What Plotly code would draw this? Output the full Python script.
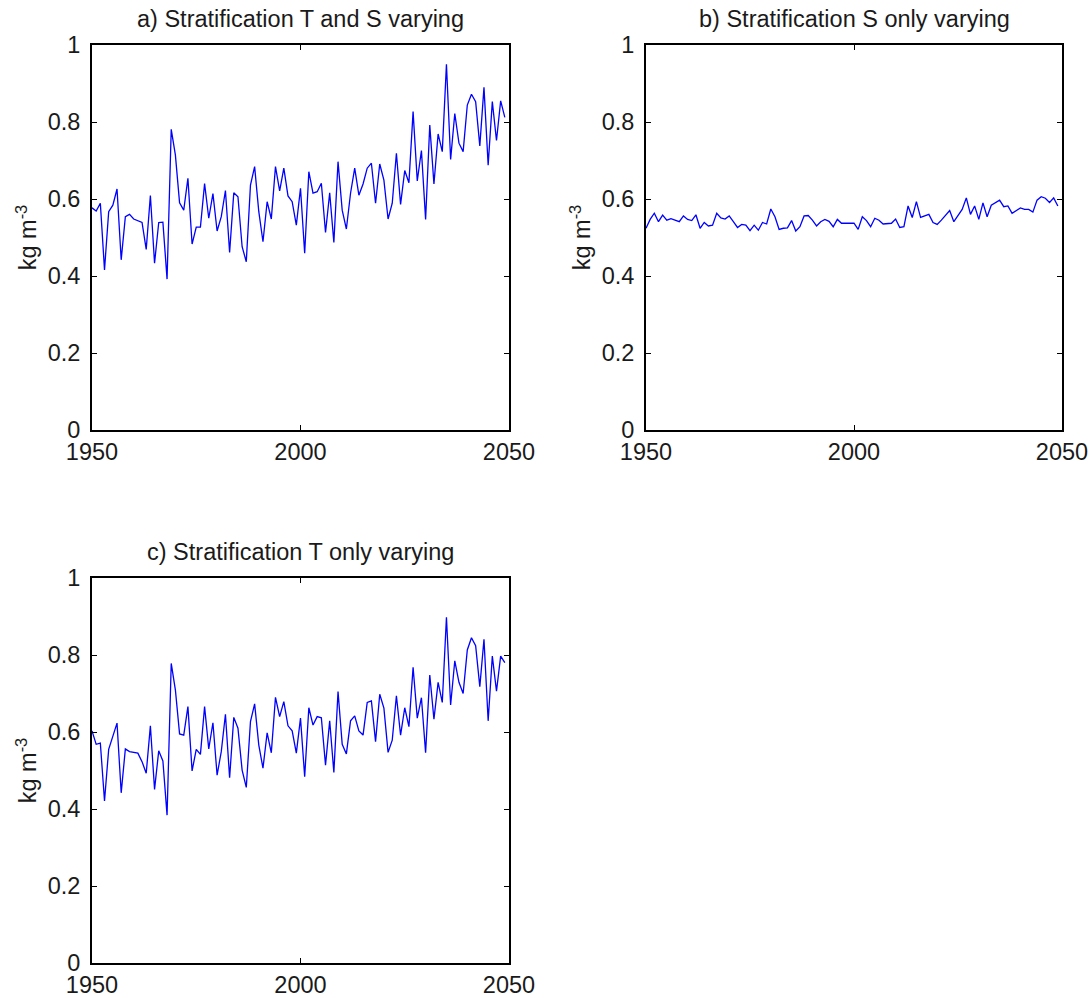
import plotly.graph_objects as go

years = list(range(1950, 2050))

# a) T and S varying
strat_ts = [
    0.577, 0.569, 0.589, 0.416, 0.567, 0.584, 0.626, 0.442, 0.554, 0.560,
    0.548, 0.543, 0.539, 0.469, 0.609, 0.433, 0.539, 0.540, 0.392, 0.781,
    0.714, 0.590, 0.571, 0.654, 0.483, 0.527, 0.527, 0.640, 0.550, 0.614,
    0.517, 0.554, 0.622, 0.461, 0.616, 0.606, 0.476, 0.437, 0.636, 0.684,
    0.567, 0.489, 0.593, 0.548, 0.684, 0.621, 0.680, 0.608, 0.593, 0.532,
    0.628, 0.459, 0.671, 0.615, 0.619, 0.641, 0.513, 0.616, 0.487, 0.697,
    0.571, 0.522, 0.615, 0.680, 0.610, 0.639, 0.680, 0.693, 0.589, 0.691,
    0.649, 0.548, 0.589, 0.719, 0.586, 0.674, 0.642, 0.827, 0.647, 0.726,
    0.547, 0.792, 0.639, 0.769, 0.723, 0.950, 0.703, 0.822, 0.745, 0.723,
    0.844, 0.872, 0.853, 0.738, 0.890, 0.688, 0.853, 0.752, 0.855, 0.812,
]

# b) S only varying
strat_s = [
    0.524, 0.547, 0.563, 0.541, 0.558, 0.545, 0.549, 0.545, 0.541, 0.556,
    0.547, 0.544, 0.559, 0.524, 0.539, 0.530, 0.532, 0.563, 0.551, 0.548,
    0.556, 0.541, 0.526, 0.534, 0.532, 0.518, 0.532, 0.519, 0.539, 0.535,
    0.574, 0.554, 0.521, 0.524, 0.525, 0.544, 0.517, 0.528, 0.556, 0.557,
    0.545, 0.530, 0.541, 0.547, 0.542, 0.528, 0.547, 0.537, 0.537, 0.537,
    0.537, 0.521, 0.554, 0.544, 0.528, 0.550, 0.545, 0.535, 0.537, 0.537,
    0.548, 0.526, 0.528, 0.582, 0.552, 0.593, 0.552, 0.557, 0.560, 0.539,
    0.534, 0.545, 0.557, 0.570, 0.541, 0.556, 0.573, 0.603, 0.560, 0.582,
    0.547, 0.590, 0.554, 0.584, 0.590, 0.597, 0.580, 0.582, 0.563, 0.569,
    0.577, 0.573, 0.573, 0.566, 0.597, 0.606, 0.602, 0.591, 0.603, 0.582,
]

# c) T only varying
strat_t = [
    0.603, 0.568, 0.571, 0.421, 0.555, 0.588, 0.623, 0.442, 0.556, 0.549,
    0.546, 0.545, 0.523, 0.493, 0.616, 0.451, 0.551, 0.525, 0.384, 0.778,
    0.709, 0.595, 0.592, 0.666, 0.499, 0.555, 0.542, 0.666, 0.556, 0.624,
    0.488, 0.549, 0.646, 0.481, 0.638, 0.610, 0.501, 0.456, 0.627, 0.673,
    0.566, 0.506, 0.598, 0.546, 0.690, 0.640, 0.679, 0.616, 0.603, 0.545,
    0.636, 0.484, 0.663, 0.618, 0.640, 0.637, 0.514, 0.629, 0.495, 0.705,
    0.568, 0.543, 0.629, 0.642, 0.603, 0.592, 0.677, 0.681, 0.575, 0.698,
    0.662, 0.547, 0.579, 0.694, 0.592, 0.663, 0.614, 0.768, 0.636, 0.689,
    0.546, 0.748, 0.633, 0.729, 0.677, 0.898, 0.670, 0.785, 0.729, 0.700,
    0.813, 0.845, 0.824, 0.718, 0.841, 0.629, 0.797, 0.706, 0.797, 0.780,
]

titles = [
    "a) Stratification T and S varying",
    "b) Stratification S only varying",
    "c) Stratification T only varying",
]
x_ticks = [1950, 2000, 2050]
y_ticks = [0, 0.2, 0.4, 0.6, 0.8, 1]
y_tick_text = ["0", "0.2", "0.4", "0.6", "0.8", "1"]
y_label = "kg m<sup>-3</sup>"

W, H = 1090, 998
# panel boxes in pixels: (left, right, top, bottom)
boxes = [(92, 509, 45, 430), (646, 1062, 45, 430), (92, 509, 578, 963)]
series = [strat_ts, strat_s, strat_t]

FONT = "Liberation Sans, Arial, Helvetica, sans-serif"
FS = 23.5
TXT = "#1a1a1a"

fig = go.Figure()
layout = dict(
    width=W, height=H,
    margin=dict(l=0, r=0, t=0, b=0),
    paper_bgcolor="white", plot_bgcolor="white",
    showlegend=False,
    font=dict(family=FONT, size=FS, color=TXT),
    annotations=[],
)

for k, (vals, (l, r, t, b)) in enumerate(zip(series, boxes)):
    sfx = "" if k == 0 else str(k + 1)
    fig.add_trace(go.Scatter(
        x=years, y=vals, mode="lines",
        line=dict(color="#0000ff", width=1.3),
        xaxis="x" + sfx, yaxis="y" + sfx, hoverinfo="skip",
    ))
    common = dict(
        showline=True, linecolor="black", linewidth=2, mirror="ticks",
        ticks="inside", ticklen=5, tickwidth=1, tickcolor="black",
        showgrid=False, zeroline=False, automargin=False,
        tickfont=dict(family=FONT, size=FS, color=TXT),
    )
    layout["xaxis" + sfx] = dict(
        common, domain=[l / W, r / W], range=[1950, 2050],
        tickvals=x_ticks, ticktext=[str(v) for v in x_ticks],
        anchor="y" + sfx, ticklabelstandoff=0,
    )
    layout["yaxis" + sfx] = dict(
        common, domain=[1 - b / H, 1 - t / H], range=[0, 1],
        tickvals=y_ticks, ticktext=y_tick_text,
        anchor="x" + sfx, ticklabelstandoff=5,
        title=dict(text=y_label, standoff=4,
                   font=dict(family=FONT, size=FS, color=TXT)),
    )
    layout["annotations"].append(dict(
        text=titles[k], x=(l + r) / 2 / W, y=1 - (t - 26) / H,
        xref="paper", yref="paper", showarrow=False,
        xanchor="center", yanchor="middle",
        font=dict(family=FONT, size=FS, color=TXT),
    ))

fig.update_layout(**layout)
fig.write_html("out.html")
